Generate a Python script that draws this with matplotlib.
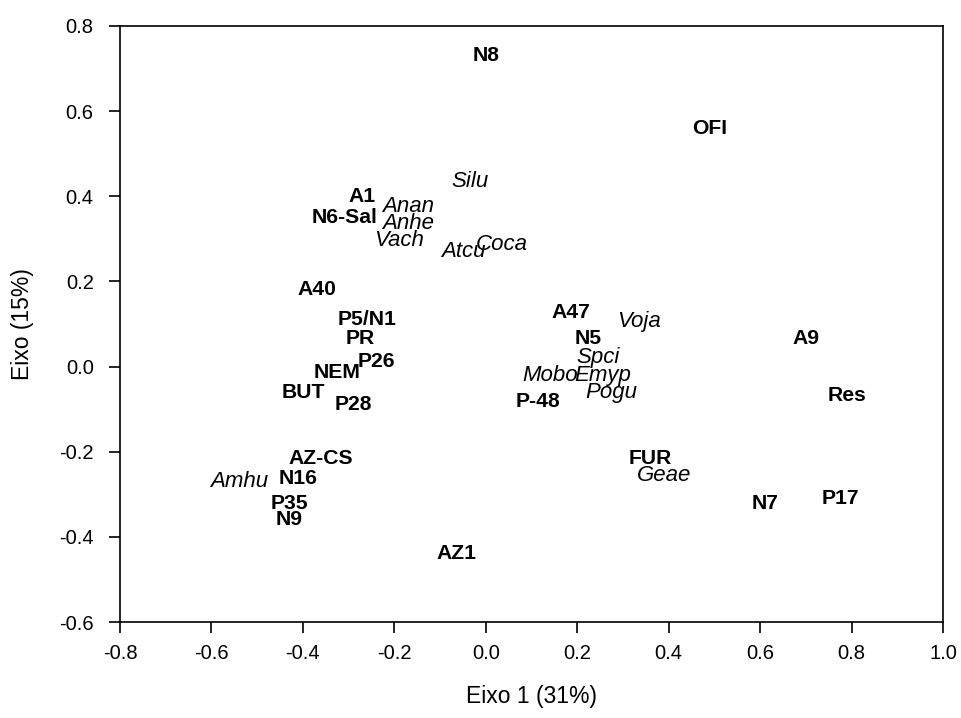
#!/usr/bin/env python3
"""
Ordination plot: sites (bold) and species (italic) on axes 1 and 2
"""
import matplotlib
matplotlib.use('Agg')
import matplotlib.pyplot as plt

plt.rcParams['font.family'] = ['Liberation Sans', 'DejaVu Sans']

site_labels = ['N8', 'OFI', 'A1', 'N6-Sal', 'A40', 'P5/N1', 'PR', 'P26', 'NEM',
               'BUT', 'P28', 'AZ-CS', 'N16', 'P35', 'N9', 'AZ1', 'A47', 'N5',
               'A9', 'P-48', 'Res', 'FUR', 'N7', 'P17']
site_x = [0.00, 0.49, -0.27, -0.31, -0.37, -0.26, -0.275, -0.24, -0.325,
          -0.40, -0.29, -0.36, -0.41, -0.43, -0.43, -0.065, 0.185, 0.225,
          0.70, 0.115, 0.79, 0.36, 0.61, 0.775]
site_y = [0.73, 0.56, 0.40, 0.35, 0.18, 0.11, 0.067, 0.011, -0.013,
          -0.062, -0.09, -0.217, -0.262, -0.321, -0.36, -0.438, 0.126, 0.067,
          0.067, -0.081, -0.067, -0.217, -0.321, -0.309]

species_labels = ['Silu', 'Anan', 'Anhe', 'Vach', 'Atcu', 'Coca', 'Amhu',
                  'Voja', 'Spci', 'Mobo', 'Emyp', 'Pogu', 'Geae']
species_x = [-0.035, -0.17, -0.17, -0.19, -0.05, 0.035, -0.54,
             0.335, 0.245, 0.14, 0.255, 0.275, 0.39]
species_y = [0.434, 0.377, 0.335, 0.297, 0.271, 0.286, -0.271,
             0.105, 0.022, -0.022, -0.022, -0.062, -0.257]


def main():
  fig = plt.figure(figsize=(9.61, 7.18), dpi=100)
  ax = fig.add_axes([0.1249, 0.1337, 0.8564, 0.8301])

  for name, x, y in zip(site_labels, site_x, site_y):
    ax.text(x, y, name, ha='center', va='center', fontsize=15.2,
            fontweight='bold')
  for name, x, y in zip(species_labels, species_x, species_y):
    ax.text(x, y, name, ha='center', va='center', fontsize=16,
            fontstyle='italic')

  ax.set_xlim(-0.8, 1.0)
  ax.set_ylim(-0.6, 0.8)
  ax.set_xticks([-0.8 + 0.2 * i for i in range(10)])
  ax.set_yticks([-0.6 + 0.2 * i for i in range(8)])
  ax.xaxis.set_major_formatter(matplotlib.ticker.FormatStrFormatter('%.1f'))
  ax.yaxis.set_major_formatter(matplotlib.ticker.FormatStrFormatter('%.1f'))
  ax.tick_params(direction='out', length=8, width=1.2, labelsize=14.5,
                 top=False, right=False)
  ax.tick_params(axis='y', pad=11)
  ax.tick_params(axis='x', pad=8)
  for spine in ax.spines.values():
    spine.set_linewidth(1.2)

  ax.set_xlabel('Eixo 1 (31%)', fontsize=16.5, labelpad=16)
  ax.set_ylabel('Eixo (15%)', fontsize=16.5, labelpad=18)

  fig.savefig('out.png', dpi=100)


if __name__ == '__main__':
  main()
